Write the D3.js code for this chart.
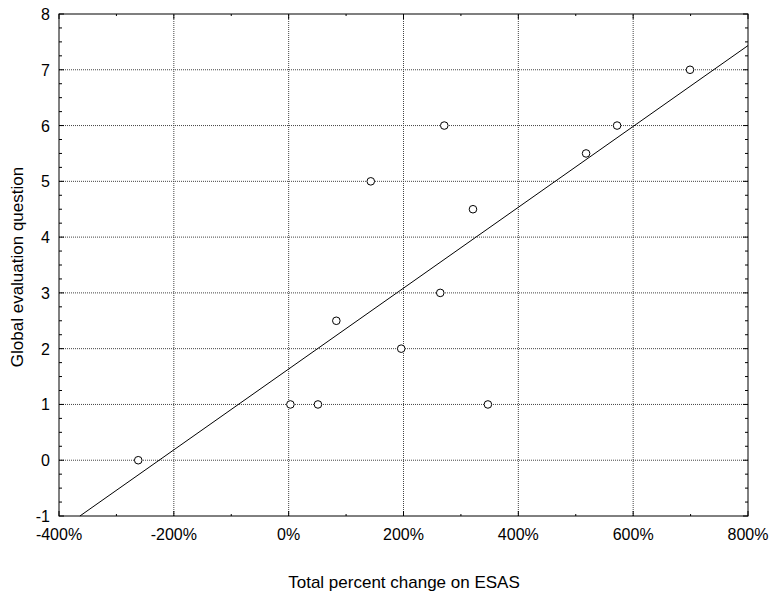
<!DOCTYPE html>
<html>
<head>
<meta charset="utf-8">
<script src="https://cdn.jsdelivr.net/npm/d3@7"></script>
<style>
  body { margin: 0; background: #fff; }
  text { font-family: "Liberation Sans", Arial, sans-serif; font-size: 16px; fill: #000; }
  .title { font-size: 17px; }
</style>
</head>
<body>
<div id="chart"></div>
<script>
// Data (percent change, score)
const pctChange = [-262, 3, 51, 83, 143, 196, 264, 271, 321, 347, 518, 572, 699];
const globalEval = [0, 1, 1, 2.5, 5, 2, 3, 6, 4.5, 1, 5.5, 6, 7];
const xTicks = [-400, -200, 0, 200, 400, 600, 800];
const yTicks = [-1, 0, 1, 2, 3, 4, 5, 6, 7, 8];

const width = 776, height = 592;
const margin = { top: 14, right: 28, bottom: 76, left: 59 };

const svg = d3.select("#chart")
    .append("svg")
    .attr("width", width)
    .attr("height", height);

const x = d3.scaleLinear().domain([-400, 800]).range([margin.left, width - margin.right]);
const y = d3.scaleLinear().domain([-1, 8]).range([height - margin.bottom, margin.top]);

const points = pctChange.map((p, i) => ({ x: p, y: globalEval[i] }));

// grid lines
svg.append("g")
    .selectAll("line")
    .data(xTicks.slice(1, -1))
    .join("line")
    .attr("x1", d => x(d)).attr("x2", d => x(d))
    .attr("y1", y(-1)).attr("y2", y(8))
    .attr("stroke", "#444")
    .attr("stroke-dasharray", "1,1");

svg.append("g")
    .selectAll("line")
    .data(yTicks.slice(1, -1))
    .join("line")
    .attr("x1", x(-400)).attr("x2", x(800))
    .attr("y1", d => y(d)).attr("y2", d => y(d))
    .attr("stroke", "#444")
    .attr("stroke-dasharray", "1,1");

// inner ticks on all four sides
const xMinor = d3.range(-300, 800, 200);
const yMinor = d3.range(-1, 8, 0.25).filter(v => !Number.isInteger(v));
const ticks = svg.append("g").attr("stroke", "#000");
xTicks.forEach(v => {
    ticks.append("line").attr("x1", x(v)).attr("x2", x(v)).attr("y1", y(-1)).attr("y2", y(-1) - 5);
    ticks.append("line").attr("x1", x(v)).attr("x2", x(v)).attr("y1", y(8)).attr("y2", y(8) + 5);
});
xMinor.forEach(v => {
    ticks.append("line").attr("x1", x(v)).attr("x2", x(v)).attr("y1", y(-1)).attr("y2", y(-1) - 2);
    ticks.append("line").attr("x1", x(v)).attr("x2", x(v)).attr("y1", y(8)).attr("y2", y(8) + 2);
});
yTicks.forEach(v => {
    ticks.append("line").attr("x1", x(-400)).attr("x2", x(-400) + 5).attr("y1", y(v)).attr("y2", y(v));
    ticks.append("line").attr("x1", x(800)).attr("x2", x(800) - 5).attr("y1", y(v)).attr("y2", y(v));
});
yMinor.forEach(v => {
    ticks.append("line").attr("x1", x(-400)).attr("x2", x(-400) + 3).attr("y1", y(v)).attr("y2", y(v));
    ticks.append("line").attr("x1", x(800)).attr("x2", x(800) - 3).attr("y1", y(v)).attr("y2", y(v));
});

// frame
svg.append("rect")
    .attr("x", x(-400)).attr("y", y(8))
    .attr("width", x(800) - x(-400))
    .attr("height", y(-1) - y(8))
    .attr("fill", "none")
    .attr("stroke", "#000");

// tick labels
svg.append("g")
    .selectAll("text")
    .data(xTicks)
    .join("text")
    .attr("x", d => x(d))
    .attr("y", y(-1) + 24)
    .attr("text-anchor", "middle")
    .text(d => d + "%");

svg.append("g")
    .selectAll("text")
    .data(yTicks)
    .join("text")
    .attr("x", x(-400) - 9)
    .attr("y", d => y(d) + 6)
    .attr("text-anchor", "end")
    .text(d => d);

// least-squares fit line
const mx = d3.mean(pctChange), my = d3.mean(globalEval);
const slope = d3.sum(points, d => (d.x - mx) * (d.y - my)) / d3.sum(points, d => (d.x - mx) ** 2);
const intercept = my - slope * mx;
const xStart = Math.max(-400, (-1 - intercept) / slope);

svg.append("line")
    .attr("x1", x(xStart)).attr("y1", y(slope * xStart + intercept))
    .attr("x2", x(800)).attr("y2", y(slope * 800 + intercept))
    .attr("stroke", "#000");

// points
svg.append("g")
    .selectAll("circle")
    .data(points)
    .join("circle")
    .attr("cx", d => x(d.x))
    .attr("cy", d => y(d.y))
    .attr("r", 3.8)
    .attr("fill", "#fff")
    .attr("stroke", "#000");

// axis titles
svg.append("text")
    .attr("class", "title")
    .attr("x", 404)
    .attr("y", 588)
    .attr("text-anchor", "middle")
    .text("Total percent change on ESAS");

svg.append("text")
    .attr("class", "title")
    .attr("transform", "translate(23,267) rotate(-90)")
    .attr("text-anchor", "middle")
    .text("Global evaluation question");
</script>
</body>
</html>
